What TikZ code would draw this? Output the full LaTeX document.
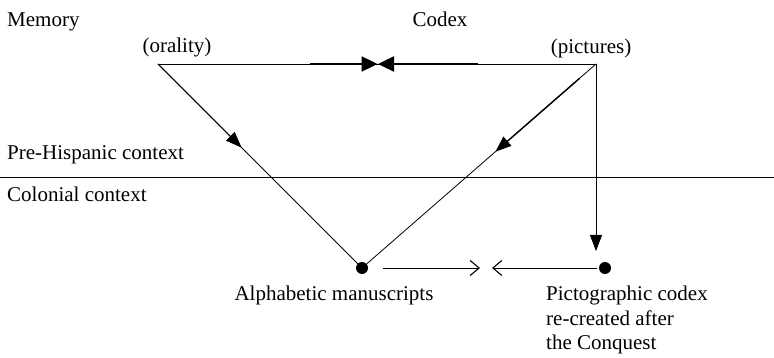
\documentclass[tikz,border=0pt]{standalone}
\usepackage{fontspec}
\setmainfont{Liberation Serif}
\usetikzlibrary{arrows.meta,calc}
\begin{document}
\begin{tikzpicture}[x=1pt,y=-1pt,
  lbl/.style={font=\fontsize{21}{24}\selectfont, inner sep=0pt},
  conn/.style={line width=0.8pt},
  thickconn/.style={line width=2.4pt},
  divider/.style={line width=0.9pt},
  dot/.style={circle, fill, inner sep=0pt, minimum size=12pt},
  bigtip/.style={-{Triangle[length=16pt,width=15pt]}},
  midtip/.style={-{Triangle[length=16pt,width=12pt]}},
  opentip/.style={-{Straight Barb[length=9pt,width=15pt,line width=1.1pt]}}]
\useasboundingbox (0,0) rectangle (774,358);
% corners and dots
\coordinate (OR) at (158,64);
\coordinate (PI) at (596,64);
\node[dot] (AM) at (362,268) {};
\node[dot] (PC) at (605,268) {};
% labels
\node[lbl, anchor=base west] (mem) at (7,27) {Memory};
\node[lbl, anchor=base] (codex) at (440,27) {Codex};
\node[lbl, anchor=base] (oral) at (177,53) {(orality)};
\node[lbl, anchor=base] (pict) at (591,54) {(pictures)};
\node[lbl, anchor=base west] (pre) at (7,160) {Pre-Hispanic context};
\node[lbl, anchor=base west] (col) at (7,202) {Colonial context};
\node[lbl, anchor=base] (alpha) at (334,301) {Alphabetic manuscripts};
\node[lbl, anchor=base west] (pc1) at (546,301) {Pictographic codex};
\node[lbl, anchor=base west] (pc2) at (546,325) {re-created after};
\node[lbl, anchor=base west] (pc3) at (546,349) {the Conquest};
% divider
\coordinate (DL) at (0,177);
\coordinate (DR) at (774,177);
\draw[divider] (DL) -- (DR);
% top line with meeting arrows
\draw[conn] (OR) -- (PI);
\coordinate (T1) at (310,64);
\coordinate (T2) at (478,64);
\coordinate (M1) at (377.5,64);
\coordinate (M2) at (378,64);
\draw[thickconn, bigtip] (T1) -- (M1);
\draw[thickconn, bigtip] (T2) -- (M2);
% left diagonal
\draw[conn] (OR) -- (AM.center);
\draw[conn, midtip] (OR) -- ($(OR)!0.41!(AM.center)$);
% right diagonal
\draw[conn] (PI) -- (AM.center);
\draw[line width=1.4pt, midtip] ($(PI)!0.07!(AM.center)$) -- ($(PI)!0.43!(AM.center)$);
% vertical
\coordinate (VE) at (596,251);
\draw[conn, midtip] (PI) -- (VE);
% bottom arrows
\coordinate (B1) at (383,268);
\coordinate (B2) at (480,268);
\coordinate (B3) at (597,268);
\coordinate (B4) at (492,268);
\draw[conn, opentip] (B1) -- (B2);
\draw[conn, opentip] (B3) -- (B4);
\end{tikzpicture}
\end{document}
